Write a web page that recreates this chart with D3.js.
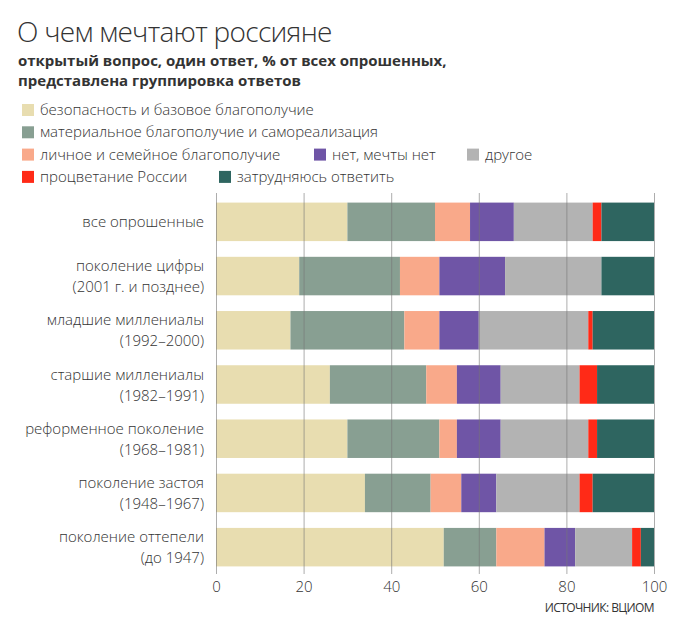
<!DOCTYPE html>
<html>
<head>
<meta charset="utf-8">
<script src="https://cdn.jsdelivr.net/npm/d3@7"></script>
<style>
body { margin: 0; background: #fff; }
text { font-family: "Open Sans", "Noto Sans", sans-serif; fill: #333; }
</style>
</head>
<body>
<div id="chart"></div>
<script>
var w = 687;
var h = 640;

// data
var groups = [
    ["все опрошенные"],
    ["поколение цифры", "(2001 г. и позднее)"],
    ["младшие миллениалы", "(1992–2000)"],
    ["старшие миллениалы", "(1982–1991)"],
    ["реформенное поколение", "(1968–1981)"],
    ["поколение застоя", "(1948–1967)"],
    ["поколение оттепели", "(до 1947)"]
];
var series = ["безопасность и базовое благополучие",
    "материальное благополучие и самореализация",
    "личное и семейное благополучие",
    "нет, мечты нет",
    "другое",
    "процветание России",
    "затрудняюсь ответить"];
var colors = ["#e8ddb0", "#889f92", "#f9a98a", "#6f55a6", "#b3b3b3", "#ff2a17", "#2e6560"];

var safety   = [30, 19, 17, 26, 30, 34, 52];
var material = [20, 23, 26, 22, 21, 15, 12];
var personal = [8, 9, 8, 7, 4, 7, 11];
var nodream  = [10, 15, 9, 10, 10, 8, 7];
var other    = [18, 22, 25, 18, 20, 19, 13];
var russia   = [2, 0, 1, 4, 2, 3, 2];
var unsure   = [12, 12, 14, 13, 13, 14, 3];
var ticks = [0, 20, 40, 60, 80, 100];

var values = [safety, material, personal, nodream, other, russia, unsure];

var svg = d3.select("#chart")
    .append("svg")
    .attr("width", w)
    .attr("height", h);

// title
svg.append("text")
    .attr("x", 17).attr("y", 42)
    .style("font-size", "28px")
    .style("font-weight", 300)
    .style("letter-spacing", "-0.7px")
    .text("О чем мечтают россияне");

svg.append("text")
    .attr("x", 18).attr("y", 66)
    .style("font-size", "15px")
    .style("font-weight", "bold")
    .text("открытый вопрос, один ответ, % от всех опрошенных,");
svg.append("text")
    .attr("x", 18).attr("y", 86)
    .style("font-size", "15px")
    .style("font-weight", "bold")
    .text("представлена группировка ответов");

// legend
var legendPos = [[22, 0], [22, 1], [22, 2], [314, 2], [467, 2], [22, 3], [219, 3]];
var legend = svg.selectAll(".legend")
    .data(series)
    .enter()
    .append("g")
    .attr("class", "legend")
    .attr("transform", function(d, i) {
        return "translate(" + legendPos[i][0] + "," + (104 + legendPos[i][1] * 22.3) + ")";
    });
legend.append("rect")
    .attr("width", 12).attr("height", 12)
    .attr("fill", function(d, i) { return colors[i]; });
legend.append("text")
    .attr("x", 18).attr("y", 11)
    .style("font-size", "15px")
    .style("font-weight", 300)
    .text(function(d) { return d; });

var xScale = d3.scaleLinear()
    .domain([0, 100])
    .range([216, 654]);

var yScale = d3.scaleBand()
    .domain(d3.range(groups.length))
    .range([195, 574])
    .paddingInner(0.29)
    .paddingOuter(0.14);

// stack the series
var rows = groups.map(function(g, i) {
    var row = {};
    series.forEach(function(s, j) { row[s] = values[j][i]; });
    return row;
});
var stack = d3.stack().keys(series)(rows);

svg.append("g")
    .selectAll("g")
    .data(stack)
    .enter()
    .append("g")
    .attr("fill", function(d, i) { return colors[i]; })
    .selectAll("rect")
    .data(function(d) { return d; })
    .enter()
    .append("rect")
    .attr("x", function(d) { return xScale(d[0]); })
    .attr("y", function(d, i) { return yScale(i); })
    .attr("width", function(d) { return xScale(d[1]) - xScale(d[0]); })
    .attr("height", yScale.bandwidth());

// gridlines over bars
var grid = svg.append("g")
    .attr("class", "grid")
    .attr("transform", "translate(0,574)")
    .call(d3.axisBottom(xScale)
        .tickValues(ticks)
        .tickSize(-381)
        .tickFormat(""));
grid.select(".domain").remove();
grid.selectAll("line")
    .attr("stroke", "#777")
    .attr("stroke-opacity", 0.6);

// x axis labels
var xAxis = svg.append("g")
    .attr("transform", "translate(0,574)")
    .call(d3.axisBottom(xScale)
        .tickValues(ticks)
        .tickSize(0)
        .tickPadding(7));
xAxis.select(".domain").remove();
xAxis.selectAll("text")
    .style("font-size", "15px")
    .style("font-weight", 300)
    .attr("fill", "#333");

// category labels
var labels = svg.append("g")
    .selectAll("text")
    .data(groups)
    .enter()
    .append("text")
    .attr("text-anchor", "end")
    .style("font-size", "15px")
    .style("font-weight", 300)
    .attr("y", function(d, i) {
        var c = yScale(i) + yScale.bandwidth() / 2;
        return d.length == 1 ? c + 5 : c - 5;
    });
labels.selectAll("tspan")
    .data(function(d) { return d; })
    .enter()
    .append("tspan")
    .attr("x", 204)
    .attr("dy", function(d, i) { return i == 0 ? 0 : 21; })
    .text(function(d) { return d; });

// source
svg.append("text")
    .attr("x", 654).attr("y", 612)
    .attr("text-anchor", "end")
    .style("font-size", "12px")
    .style("letter-spacing", "-0.6px")
    .text("ИСТОЧНИК: ВЦИОМ");
</script>
</body>
</html>
